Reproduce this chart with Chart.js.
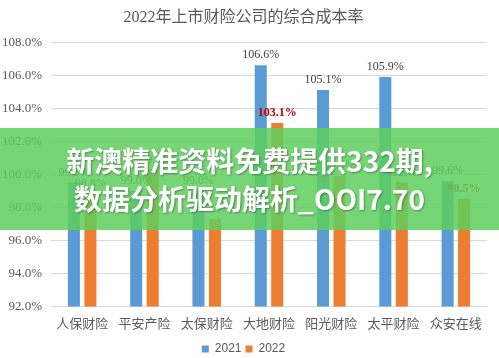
<!DOCTYPE html>
<html><head><meta charset="utf-8">
<script src="https://cdn.jsdelivr.net/npm/chart.js@4"></script>
<style>
html,body{margin:0;padding:0;background:#fff;}
#wrap{position:relative;width:499px;height:358px;overflow:hidden;}
#banner{position:absolute;left:0;top:128px;width:499px;height:102px;background:rgba(94,207,94,0.85);display:flex;flex-direction:column;align-items:center;justify-content:center;color:#fff;font-family:"Noto Sans CJK SC",sans-serif;font-weight:bold;font-size:28px;line-height:38px;text-shadow:1px 1px 2px rgba(0,0,0,0.35);white-space:nowrap;}
</style></head><body>
<div id="wrap"><canvas id="c" width="499" height="358"></canvas>
<div id="banner"><div>新澳精准资料免费提供332期,</div><div>数据分析驱动解析_OOI7.70</div></div></div>
<script>
const titleText = '2022年上市财险公司的综合成本率';
const categories = ['人保财险','平安产险','太保财险','大地财险','阳光财险','太平财险','众安在线'];
const seriesNames = ['2021','2022'];
const values2021 = [99.5, 99.0, 99.0, 106.6, 105.1, 105.9, 99.6];
const values2022 = [98.8, 100.3, 97.3, 103.1, 99.9, 99.5, 98.5];
const yTickValues = [92, 94, 96, 98, 100, 102, 104, 106, 108];
const highlighted2022 = ['大地财险','众安在线'];

const labelPlugin = {
  id: 'valueLabels',
  afterDatasetsDraw(chart) {
    const ctx = chart.ctx;
    chart.data.datasets.forEach((ds, di) => {
      const meta = chart.getDatasetMeta(di);
      meta.data.forEach((el, i) => {
        const v = ds.data[i];
        const hl = di === 1 && highlighted2022.includes(categories[i]);
        ctx.save();
        ctx.font = (hl ? 'bold ' : '') + '12px "Liberation Serif"';
        ctx.fillStyle = hl ? '#c00000' : '#404040';
        ctx.textAlign = 'center';
        ctx.textBaseline = 'bottom';
        ctx.fillText(v.toFixed(1) + '%', el.x, el.y - 4);
        ctx.restore();
      });
    });
  }
};

new Chart(document.getElementById('c'), {
  type: 'bar',
  data: {
    labels: categories,
    datasets: [
      { label: seriesNames[0], data: values2021, backgroundColor: '#5b9bd5', barPercentage: 0.73, categoryPercentage: 0.53 },
      { label: seriesNames[1], data: values2022, backgroundColor: '#ed7d31', barPercentage: 0.73, categoryPercentage: 0.53 }
    ]
  },
  options: {
    responsive: false,
    animation: false,
    layout: { padding: { left: 0, right: 12, top: 0, bottom: -7 } },
    plugins: {
      title: { display: true, text: titleText, color: '#595959', font: { family: '"Liberation Serif","Noto Sans CJK SC"', size: 16, weight: 'normal' }, padding: { top: 8, bottom: 15 } },
      legend: { position: 'bottom', labels: { boxWidth: 7, boxHeight: 7, color: '#595959', font: { family: '"Liberation Sans"', size: 12 }, padding: 4 } },
      tooltip: { enabled: false }
    },
    scales: {
      x: {
        grid: { display: false },
        border: { color: '#d9d9d9' },
        afterFit: (s) => { s.height += 7; },
        ticks: { color: '#595959', font: { family: '"Noto Sans CJK SC"', size: 13 }, padding: 1 }
      },
      y: {
        min: 92, max: 108,
        afterBuildTicks: (s) => { s.ticks = yTickValues.map(v => ({ value: v })); },
        afterFit: (s) => { s.width = 51; },
        grid: { color: '#d9d9d9', drawTicks: false },
        border: { display: false },
        ticks: { color: '#595959', font: { family: '"Liberation Serif"', size: 13 }, padding: 9, callback: (v) => Number(v).toFixed(1) + '%' }
      }
    }
  },
  plugins: [labelPlugin]
});
</script>
</body></html>
